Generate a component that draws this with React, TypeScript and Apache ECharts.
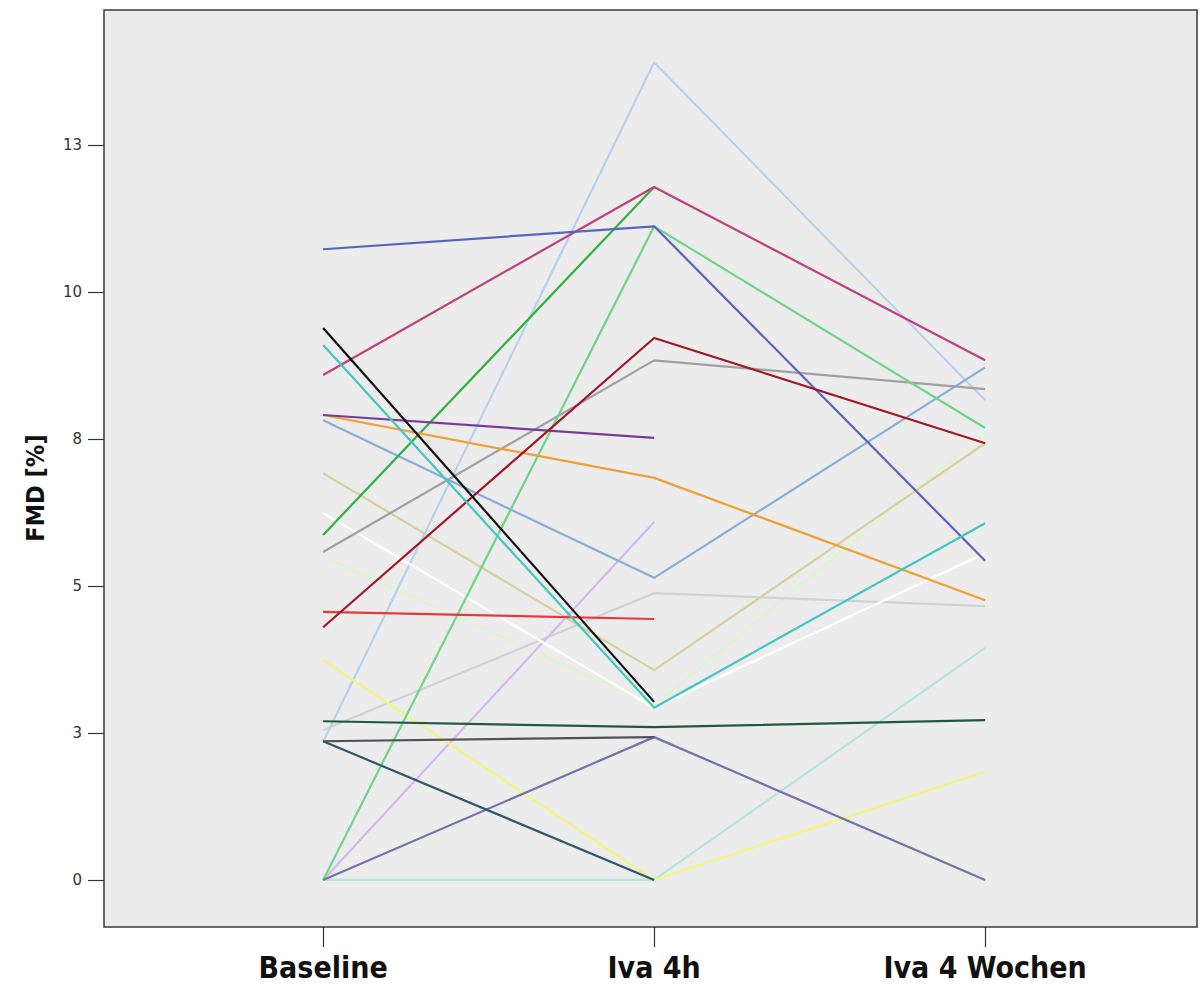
import React, { useEffect, useRef } from "react";
import * as echarts from "echarts";

const categories = ["Baseline", "Iva 4h", "Iva 4 Wochen"];
const yTickValues = [0, 2.5, 5, 7.5, 10, 12.5];

const subjectColors = [
  "#5565c0", "#c0407a", "#b5d3ee", "#30b040", "#70d488", "#111111",
  "#40c8c0", "#7a3a9a", "#f0a030", "#88aed8", "#d6cfa0", "#a0a0a0",
  "#a01828", "#ffffff", "#e83838", "#d2d2d2", "#f4f480", "#1f5a40",
  "#505058", "#7474a8", "#2e5a6a", "#b8e4dc", "#d4b8f0", "#e0f4d0",
];

const s01 = [10.73, 11.12, 5.43];
const s02 = [8.59, 11.79, 8.84];
const s03 = [2.35, 13.91, 8.16];
const s04 = [5.87, 11.79, null];
const s05 = [0, 11.12, 7.69];
const s06 = [9.39, 3.03, null];
const s07 = [9.1, 2.93, 6.07];
const s08 = [7.91, 7.52, null];
const s09 = [7.91, 6.84, 4.76];
const s10 = [7.82, 5.14, 8.72];
const s11 = [6.92, 3.57, 7.43];
const s12 = [5.58, 8.84, 8.35];
const s13 = [4.3, 9.22, 7.43];
const s14 = [6.24, 2.93, 5.56];
const s15 = [4.56, 4.44, null];
const s16 = [2.55, 4.88, 4.66];
const s17 = [3.74, 0, 1.84];
const s18 = [2.7, 2.6, 2.72];
const s19 = [2.36, 2.43, null];
const s20 = [0, 2.43, 0];
const s21 = [2.36, 0, null];
const s22 = [0, 0, 3.95];
const s23 = [0, 6.09, null];
const s24 = [5.5, 2.97, 7.6];

// drawing order (later on top)
const subjects = [
  s24, s22, s16, s03, s23, s14, s17, s11, s10, s12, s05, s04,
  s02, s01, s09, s08, s15, s13, s07, s20, s21, s19, s18, s06,
];
const subjectColorIndex = [
  23, 21, 15, 2, 22, 13, 16, 10, 9, 11, 4, 3,
  1, 0, 8, 7, 14, 12, 6, 19, 20, 18, 17, 5,
];

export default function App() {
  const ref = useRef<HTMLDivElement>(null);
  useEffect(() => {
    document.body.style.margin = "0";
    const chart = echarts.init(ref.current!, null, { renderer: "svg" });
    const series = subjects.map((vals, i) => ({
      type: "line",
      data: vals.map((v, j) => [j, v]),
      showSymbol: false,
      connectNulls: false,
      lineStyle: { color: subjectColors[subjectColorIndex[i]], width: 2.2 },
      itemStyle: { color: subjectColors[subjectColorIndex[i]] },
      z: 2,
    }));
    chart.setOption({
      animation: false,
      backgroundColor: "#ffffff",
      grid: {
        left: 104,
        top: 10,
        right: 7,
        bottom: 58,
        show: true,
        backgroundColor: "#ececec",
        borderColor: "#3a3a3a",
        borderWidth: 1.5,
      },
      xAxis: {
        type: "value",
        min: -0.662,
        max: 2.64,
        axisLine: { show: false, onZero: false },
        splitLine: { show: false },
        axisTick: {
          show: true,
          inside: false,
          length: 20,
          customValues: [0, 1, 2],
          lineStyle: { color: "#333", width: 1.2 },
        },
        axisLabel: {
          customValues: [0, 1, 2],
          formatter: (v: number) => categories[Math.round(v)] ?? "",
          margin: 25,
          fontFamily: "'DejaVu Sans Condensed', 'DejaVu Sans', sans-serif",
          fontWeight: "bold",
          fontSize: 30,
          color: "#111",
        },
      },
      yAxis: {
        type: "value",
        min: -0.8,
        max: 14.8,
        axisLine: { show: false, onZero: false },
        splitLine: { show: false },
        axisTick: {
          show: true,
          inside: false,
          length: 16,
          customValues: yTickValues,
          lineStyle: { color: "#333", width: 1.2 },
        },
        axisLabel: {
          customValues: yTickValues,
          formatter: (v: number) => String(Math.round(v)),
          margin: 22,
          fontFamily: "'DejaVu Sans', sans-serif",
          fontSize: 15,
          color: "#333",
        },
      },
      graphic: [
        {
          type: "text",
          x: 35,
          y: 488,
          rotation: Math.PI / 2,
          style: {
            text: "FMD [%]",
            fontFamily: "'DejaVu Sans Condensed', 'DejaVu Sans', sans-serif",
            fontWeight: "bold",
            fontSize: 25,
            fill: "#111",
            align: "center",
            verticalAlign: "middle",
          },
        },
      ],
      series,
    });
    return () => chart.dispose();
  }, []);
  return (
    <div
      ref={ref}
      style={{ position: "fixed", left: 0, top: 0, width: 1204, height: 985 }}
    />
  );
}
